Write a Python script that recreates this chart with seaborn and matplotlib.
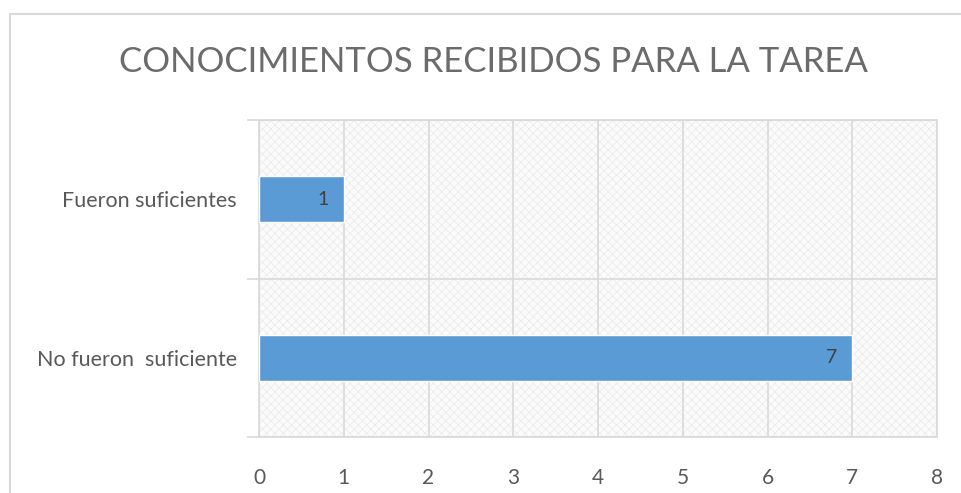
import matplotlib
matplotlib.use("Agg")
import matplotlib.pyplot as plt
import seaborn as sns
import pandas as pd
from matplotlib.patches import Rectangle

categories = ["Fueron suficientes", "No fueron  suficiente"]
values = [1, 7]
x_ticks = [0, 1, 2, 3, 4, 5, 6, 7, 8]

sns.set_theme(style="white")
plt.rcParams['font.family'] = ['Lato', 'DejaVu Sans']
plt.rcParams['hatch.linewidth'] = 0.6

df = pd.DataFrame({"cat": categories, "val": values})

fig = plt.figure(figsize=(9.61, 4.93), dpi=100)
ax = fig.add_axes([259/961, 1-437/493, (937-259)/961, (437-120)/493])

# patterned background
bg = Rectangle((0, 0), 1, 1, transform=ax.transAxes, facecolor="#fbfbfb",
               edgecolor="#ececec", hatch="xxxx", linewidth=0, zorder=0)
ax.add_patch(bg)

sns.barplot(data=df, x="val", y="cat", orient="h", color="#5B9BD5",
            width=0.29, saturation=1, ax=ax, zorder=3)

for i, v in enumerate(values):
    ax.text(v - 0.18, i, str(v), ha="right", va="center", fontsize=14,
            color="#404040", zorder=4)

ax.set_xlim(0, 8)
ax.set_ylim(1.5, -0.5)
ax.set_xticks(x_ticks)
ax.set_xticklabels([str(t) for t in x_ticks])
ax.set_xlabel("")
ax.set_ylabel("")

grid_c = "#d9d9d9"
ax.grid(axis="x", color=grid_c, linewidth=1.2, zorder=1)
ax.set_axisbelow(True)
for s in ax.spines.values():
    s.set_color(grid_c)
    s.set_linewidth(1.2)

ax.set_yticks([-0.5, 0.5, 1.5], minor=True)
ax.grid(axis="y", which="minor", color=grid_c, linewidth=1.2)
ax.tick_params(axis="y", which="minor", length=9, color=grid_c, width=1.2, left=True)
ax.tick_params(axis="y", which="major", length=0, pad=16, labelsize=15.5, labelcolor="#595959")
ax.tick_params(axis="x", length=0, pad=22, labelsize=15, labelcolor="#595959")

fig.text(493/961, 1-62/493, "CONOCIMIENTOS RECIBIDOS PARA LA TAREA", ha="center", va="center",
         fontsize=25, color="#6b6b6b", fontweight="normal")

# figure frame
frame = Rectangle((10/961, -0.1), 1.2, (493-14)/493 + 0.1, transform=fig.transFigure,
                  fill=False, edgecolor="#d9d9d9", linewidth=1.5)
fig.patches.append(frame)

fig.savefig("out.png", dpi=100)
